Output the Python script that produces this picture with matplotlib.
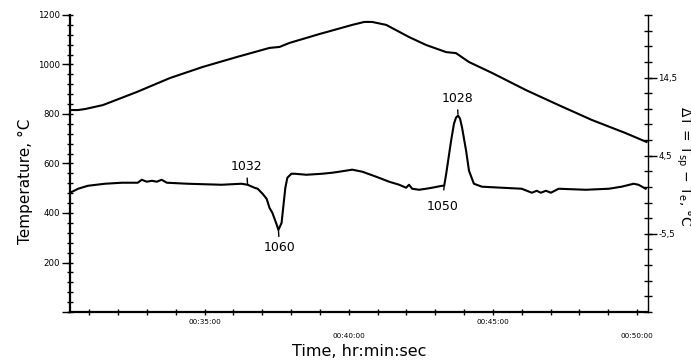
import numpy as np
import matplotlib
matplotlib.use("Agg")
import matplotlib.pyplot as plt
from matplotlib.ticker import FixedLocator

plt.rcParams['font.family'] = ['DejaVu Sans']
plt.rcParams['mathtext.fontset'] = 'dejavusans'

# ---- data (time in minutes) ----
temp_time = [30.33, 30.61, 30.85, 31.47, 32.65, 33.79, 34.93, 36.11, 37.25, 37.60, 37.94,
             38.98, 40.12, 40.54, 40.81, 41.30, 42.09, 42.68, 43.38, 43.72, 44.17, 44.97,
             46.14, 47.28, 48.43, 49.60, 50.33]
temp_vals = [816, 816, 820, 836, 889, 945, 990, 1030, 1067, 1071, 1087,
             1123, 1160, 1172, 1172, 1160, 1111, 1079, 1050, 1046, 1010, 966,
             897, 836, 776, 723, 687]

dt_time = [30.33, 30.40, 30.61, 30.95, 31.54, 32.13, 32.68, 32.82, 32.99, 33.17, 33.34,
           33.51, 33.69, 34.41, 35.59, 36.28, 36.49, 36.73, 36.84, 37.01, 37.15, 37.25,
           37.35, 37.49, 37.56, 37.67, 37.74, 37.80, 37.87, 38.01, 38.12, 38.53, 39.08,
           39.43, 39.67, 40.12, 40.47, 40.95, 41.40, 41.75, 41.99, 42.09, 42.20, 42.44,
           42.68, 42.89, 43.24, 43.31, 43.38, 43.55, 43.65, 43.72, 43.79, 43.86, 43.93,
           44.07, 44.17, 44.34, 44.62, 45.31, 46.00, 46.35, 46.52, 46.66, 46.84, 47.01,
           47.28, 48.22, 49.02, 49.46, 49.88, 50.05, 50.30]
dt_vals = [-0.24, -0.12, 0.27, 0.65, 0.91, 1.04, 1.04, 1.42, 1.17, 1.29, 1.17,
           1.42, 1.04, 0.91, 0.78, 0.91, 0.78, 0.40, 0.27, -0.37, -1.01, -2.17,
           -2.81, -4.22, -4.99, -4.09, -1.65, 0.40, 1.68, 2.19, 2.19, 2.06, 2.19,
           2.32, 2.45, 2.71, 2.45, 1.81, 1.17, 0.78, 0.40, 0.78, 0.27, 0.14,
           0.27, 0.40, 0.65, 0.65, 2.19, 6.42, 8.60, 9.37, 9.63, 9.24, 8.09,
           5.14, 2.58, 0.91, 0.53, 0.40, 0.27, -0.24, 0.01, -0.24, 0.01, -0.24,
           0.27, 0.14, 0.27, 0.53, 0.91, 0.78, 0.27]

# annotations: label, point (t, dT), text position (t, dT), gaps (points)
ann_labels = ['1032', '1060', '1050', '1028']
ann_points = [(36.49, 0.78), (37.56, -4.99), (43.31, 0.65), (43.79, 9.63)]
ann_text = [(36.45, 3.09), (37.60, -7.29), (43.24, -2.04), (43.76, 11.81)]
ann_gap_text = [1.5, 1.5, 5.5, 1.5]
ann_gap_point = [0.3, 0.3, 0.6, 1.0]

x_major = [35, 40, 45, 50]
x_labels = ['00:35:00', '00:40:00', '00:45:00', '00:50:00']
y_left_major = [0, 200, 400, 600, 800, 1000, 1200]
y_left_labels = ['', '200', '400', '600', '800', '1000', '1200']
y_right_major = [14.5, 4.5, -5.5]
y_right_labels = ['14,5', '4,5', '-5,5']

fig = plt.figure(figsize=(6.91, 3.64), dpi=100)
ax = fig.add_axes([70/691, 52/364, 578/691, 297/364])
ax2 = ax.twinx()

ax.plot(temp_time, temp_vals, color='black', lw=1.5, solid_joinstyle='round')
ax2.plot(dt_time, dt_vals, color='black', lw=1.5, solid_joinstyle='round')

ax.set_xlim(30.33, 50.38)
ax.set_ylim(0, 1200)
ax2.set_ylim(-15.5, 22.5)

# left axis ticks
ax.yaxis.set_major_locator(FixedLocator(y_left_major))
ax.set_yticklabels(y_left_labels)
ax.yaxis.set_minor_locator(FixedLocator(np.arange(0, 1201, 40)))
ax.yaxis.remove_overlapping_locs = False
ax.tick_params(axis='y', which='major', direction='out', length=5.8, width=1.0,
               labelsize=6.2, pad=1.5)
ax.tick_params(axis='y', which='minor', direction='inout', length=4.8, width=1.0)

# x axis ticks
ax.xaxis.set_major_locator(FixedLocator(x_major))
ax.set_xticklabels(x_labels)
ax.xaxis.set_minor_locator(FixedLocator(np.arange(31, 51, 1)))
ax.tick_params(axis='x', which='major', direction='inout', length=4.5, width=1.0,
               labelsize=5.2, pad=2.6)
ax.tick_params(axis='x', which='minor', direction='inout', length=4.3, width=1.0)
for i, t in enumerate(ax.xaxis.get_major_ticks()):
    t.set_pad(2.6 if i % 2 == 0 else 12.6)

# right axis ticks
ax2.yaxis.set_major_locator(FixedLocator(y_right_major))
ax2.set_yticklabels(y_right_labels)
ax2.yaxis.set_minor_locator(FixedLocator(np.arange(-15.5, 22.6, 2)))
ax2.yaxis.remove_overlapping_locs = False
ax2.tick_params(axis='y', which='major', direction='out', length=6.5, width=1.0,
                labelsize=6.2, pad=1.0)
ax2.tick_params(axis='y', which='minor', direction='inout', length=5.8, width=1.0)

for a in (ax, ax2):
    a.spines['top'].set_visible(False)
    a.patch.set_visible(False)
ax2.spines['left'].set_visible(False)
ax2.spines['bottom'].set_visible(False)
ax.spines['right'].set_visible(False)
ax.spines['left'].set_linewidth(1.6)
ax.spines['bottom'].set_linewidth(1.6)
ax2.spines['right'].set_linewidth(1.0)

for lab, pt, tx, ga, gb in zip(ann_labels, ann_points, ann_text, ann_gap_text, ann_gap_point):
    ax2.annotate(lab, xy=pt, xytext=tx, ha='center', va='center', fontsize=9,
                 arrowprops=dict(arrowstyle='-', lw=1.0, color='black',
                                 shrinkA=ga, shrinkB=gb))

fig.text(25/691, 1 - 181/364, 'Temperature, °C', rotation=90, ha='center',
         va='center', fontsize=11)
fig.text(359/691, 1 - 352/364, 'Time, hr:min:sec', ha='center', va='center',
         fontsize=11.5)
fig.text(683/691, 1 - 166/364, r'$\Delta$T = T$_{\mathrm{sp}}$ − T$_{\mathrm{e}}$, °C',
         rotation=-90, ha='center', va='center', fontsize=10)

fig.savefig('out.png', dpi=100)
